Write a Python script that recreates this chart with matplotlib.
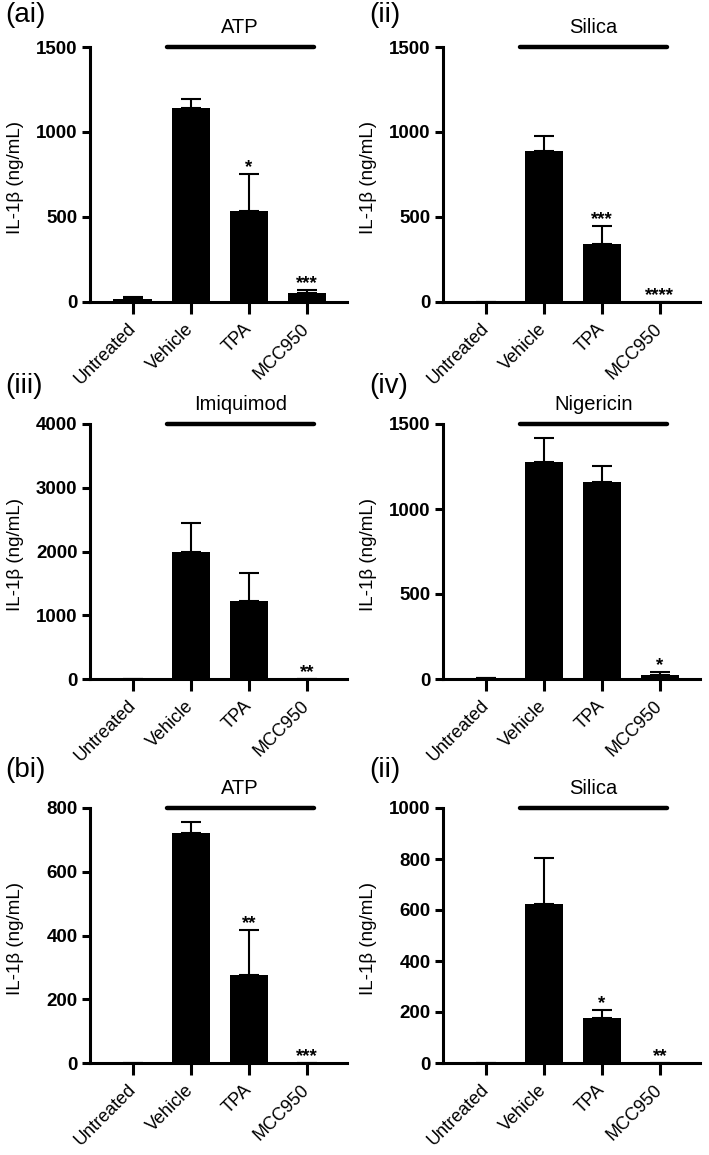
import matplotlib
matplotlib.use("Agg")
import matplotlib.pyplot as plt

plt.rcParams['font.family'] = ['Liberation Sans', 'DejaVu Sans']

categories = ["Untreated", "Vehicle", "TPA", "MCC950"]

# panel data
ai_mean = [15, 1140, 535, 55]
ai_err = [15, 55, 215, 15]
ai_sig = ["", "", "*", "***"]

aii_mean = [0, 890, 340, 0]
aii_err = [0, 85, 105, 0]
aii_sig = ["", "", "***", "****"]

aiii_mean = [0, 2000, 1220, 0]
aiii_err = [0, 450, 450, 0]
aiii_sig = ["", "", "", "**"]

aiv_mean = [5, 1275, 1160, 25]
aiv_err = [0, 145, 95, 15]
aiv_sig = ["", "", "", "*"]

bi_mean = [0, 722, 275, 0]
bi_err = [0, 33, 143, 0]
bi_sig = ["", "", "**", "***"]

bii_mean = [0, 622, 178, 0]
bii_err = [0, 183, 30, 0]
bii_sig = ["", "", "*", "**"]

panels = [
    ("(ai)", "ATP", ai_mean, ai_err, ai_sig, 1500, [0, 500, 1000, 1500]),
    ("(ii)", "Silica", aii_mean, aii_err, aii_sig, 1500, [0, 500, 1000, 1500]),
    ("(iii)", "Imiquimod", aiii_mean, aiii_err, aiii_sig, 4000, [0, 1000, 2000, 3000, 4000]),
    ("(iv)", "Nigericin", aiv_mean, aiv_err, aiv_sig, 1500, [0, 500, 1000, 1500]),
    ("(bi)", "ATP", bi_mean, bi_err, bi_sig, 800, [0, 200, 400, 600, 800]),
    ("(ii)", "Silica", bii_mean, bii_err, bii_sig, 1000, [0, 200, 400, 600, 800, 1000]),
]

W, H = 709, 1155
fig = plt.figure(figsize=(W / 100, H / 100), dpi=100)

lefts = [90 / W, 443 / W]
bottoms = [1 - 302 / H, 1 - 679 / H, 1 - 1063 / H]
width = 257 / W
height = 255 / H
label_x = [5 / W, 369 / W]
label_y = [1 - 15 / H, 1 - 386 / H, 1 - 770 / H]

for i, (plabel, stim, mean, err, sig, ymax, yticks) in enumerate(panels):
    r, c = divmod(i, 2)
    ax = fig.add_axes([lefts[c], bottoms[r], width, height])
    x = list(range(len(categories)))
    ax.bar(x, mean, width=0.67, color='black', zorder=2)
    lower = [0] * len(err)
    ax.errorbar(x, mean, yerr=[lower, err], fmt='none', ecolor='black',
                elinewidth=1.5, capsize=7, capthick=1.5, zorder=3)
    for xi, m, e, s in zip(x, mean, err, sig):
        if s:
            ax.annotate(s, xy=(xi, m + e), xytext=(0, 1.5), textcoords='offset points',
                        ha='center', va='baseline', fontsize=13.5, fontweight='bold')
    ax.set_xlim(-0.74, 3.69)
    ax.set_ylim(0, ymax)
    ax.set_yticks(yticks)
    ax.set_yticklabels([str(t) for t in yticks], fontsize=13.5, fontweight='bold')
    ax.set_xticks(x)
    ax.set_xticklabels(categories, rotation=45, ha='right', va='center',
                       rotation_mode='anchor', fontsize=13)
    for sp in ['top', 'right']:
        ax.spines[sp].set_visible(False)
    for sp in ['left', 'bottom']:
        ax.spines[sp].set_linewidth(2.2)
    ax.tick_params(axis='y', width=2.2, length=6, direction='out', pad=3)
    ax.tick_params(axis='x', width=2.2, length=8.5, direction='out', pad=9)
    ax.set_ylabel("IL-1β (ng/mL)", fontsize=13.5)
    ax.yaxis.set_label_coords(-0.255, 0.49)
    # stimulus bar
    ax.plot([0.58, 3.12], [ymax, ymax], color='black', lw=3.2,
            solid_capstyle='round', clip_on=False, zorder=4)
    ax.annotate(stim, xy=(1.85, ymax), xytext=(0, 10), textcoords='offset points',
                ha='center', va='baseline', fontsize=14.5, annotation_clip=False)
    fig.text(label_x[c], label_y[r], plabel, fontsize=20, ha='left', va='center')

fig.savefig("out.png", dpi=100)
